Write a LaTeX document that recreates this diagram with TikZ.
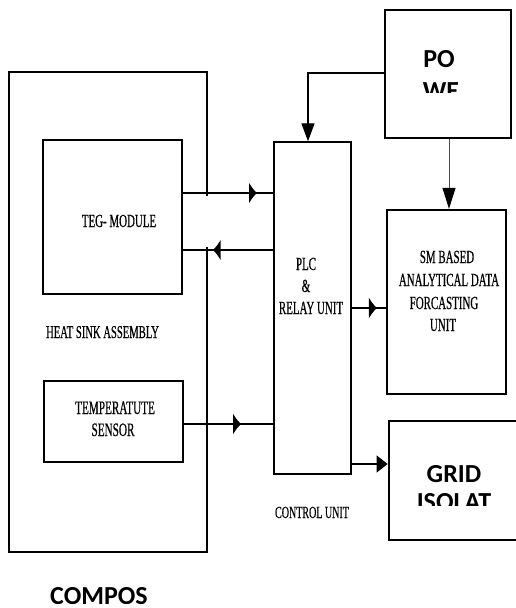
\documentclass[tikz,border=0pt]{standalone}
\usepackage{fontspec}
\newfontfamily\tnr{Liberation Serif}[FakeStretch=0.59,FakeBold=0.5]
\newfontfamily\calb{Carlito}
\usetikzlibrary{arrows.meta,decorations.markings,calc}
\begin{document}
\begin{tikzpicture}[x=1pt,y=-1pt,
 box/.style={draw,rectangle,inner sep=0pt},
 lbl/.style={font=\tnr\fontsize{18.5}{20}\selectfont, inner sep=0pt, anchor=base},
 big/.style={font=\calb\bfseries\fontsize{26}{28}\selectfont, inner sep=0pt, anchor=base},
 midarrow/.style={postaction={decorate},decoration={markings,mark=at position #1 with {\arrow{Latex[length=8pt,width=22pt]}}}},
]
\useasboundingbox (0,0) rectangle (516,608);
% boxes
\node[box, minimum width=198pt, minimum height=480pt, line width=1.5pt] (hs) at (108,312) {};
\node[box, minimum width=139pt, minimum height=154pt, line width=1.8pt] (teg) at (112.5,217) {};
\node[box, minimum width=139pt, minimum height=81pt, line width=1.8pt] (ts) at (113.5,421.5) {};
\node[box, minimum width=77pt, minimum height=332pt, line width=1.4pt] (plc) at (312.5,308) {};
\node[box, minimum width=126pt, minimum height=128pt, line width=2.7pt] (pw) at (448,74) {};
\node[box, minimum width=119pt, minimum height=184pt, line width=2.3pt] (lstm) at (446.5,302) {};
\node[box, minimum width=136pt, minimum height=119pt, line width=2.7pt] (grid) at (457,480.5) {};
% gap in heat sink right edge
\fill[white] (203,196) rectangle (211,247);
% row coordinates
\coordinate (r193) at (0,193);
\coordinate (r250) at (0,250);
\coordinate (r424) at (0,424);
\coordinate (r464) at (0,464);
% connectors
\draw[line width=2pt, midarrow=0.82] (teg.east |- r193) -- (plc.west |- r193);
\draw[line width=2pt, midarrow=0.67] (plc.west |- r250) -- (teg.east |- r250);
\draw[line width=1.8pt, midarrow=0.64] (ts.east |- r424) -- (plc.west |- r424);
\draw[line width=2pt, midarrow=0.74] (plc.east) -- (lstm.west |- plc.east);
\draw[line width=1.3pt, -{Triangle[length=11pt,width=17pt]}] (plc.east |- r464) -- (grid.west |- r464);
\draw[line width=1.3pt, -{Triangle[length=18pt,width=13pt]}] ([yshift=1pt]pw.west) -| ([xshift=-4.5pt]plc.north);
\draw[line width=1pt, black!70, -{Triangle[length=21pt,width=13pt,black]}] ([xshift=1pt]pw.south) -- ([xshift=1pt]pw.south |- lstm.north);
% serif labels
\node[lbl] (tTeg) at (119,227) {TEG- MODULE};
\node[lbl, font=\tnr\fontsize{18}{19}\selectfont] (tHs) at (102.5,338) {HEAT SINK ASSEMBLY};
\node[lbl, font=\tnr\fontsize{19}{20}\selectfont] (tTs1) at (115,414) {TEMPERATUTE};
\node[lbl, font=\tnr\fontsize{19}{20}\selectfont] (tTs2) at (113,436) {SENSOR};
\node[lbl] (tPlc1) at (306,270) {PLC};
\node[lbl] (tPlc2) at (306,292) {\&};
\node[lbl] (tPlc3) at (311,314) {RELAY UNIT};
\node[lbl] (tL1) at (447,263) {SM BASED};
\node[lbl] (tL2) at (449,286) {ANALYTICAL DATA};
\node[lbl] (tL3) at (444,309) {FORCASTING};
\node[lbl] (tL4) at (443,331) {UNIT};
\node[lbl, font=\tnr\fontsize{17}{18}\selectfont] (tCu) at (312,518) {CONTROL UNIT};
% bold clipped labels
\begin{scope}
\clip (386,12) rectangle (510,92);
\node[big] (tPo) at (439,67) {PO};
\node[big] (tWe) at (441,99) {WE};
\end{scope}
\begin{scope}
\clip (391,423) rectangle (516,505);
\node[big] (tGr) at (454,482) {GRID};
\node[big] (tIs) at (454,510) {ISOLAT};
\end{scope}
\begin{scope}
\clip (0,560) rectangle (300,603);
\node[big] (tCo) at (99,604) {COMPOS};
\end{scope}
\end{tikzpicture}
\end{document}
